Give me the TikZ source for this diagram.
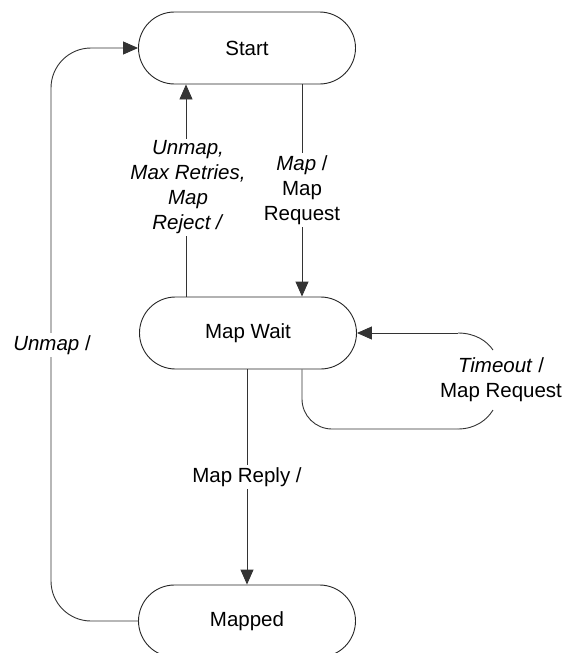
\documentclass[tikz,border=0pt]{standalone}
\usepackage{fontspec}
\setmainfont{Liberation Sans}
\usetikzlibrary{arrows.meta}
\begin{document}
\begin{tikzpicture}[x=1pt,y=-1pt,
  font=\fontsize{20.5}{25}\selectfont,
  state/.style={draw=black!85, line width=0.9pt, rounded corners=36pt,
    minimum width=217pt, minimum height=72pt, inner sep=0pt, fill=white},
  conn/.style={draw=black!80, line width=0.9pt},
  arr/.style={conn, -{Triangle[length=15pt,width=13pt]}},
  lbl/.style={fill=white, align=center, inner sep=2pt}]
\useasboundingbox (0,0) rectangle (569,653);
\clip (0,0) rectangle (569,653);

\node[state] (start) at (247,48) {Start};
\node[state] (wait) at (248,333) {Map Wait};
\node[state] (mapped) at (247,621) {Mapped};

\coordinate (ux) at (186,0);
\coordinate (mx) at (302,0);
\coordinate (rx) at (247,0);

% Start -> Map Wait
\draw[arr] (start.south -| mx) -- (wait.north -| mx);
\node[lbl] (lmap) at (302,190) {\textit{Map} /\\Map\\Request};

% Map Wait -> Start
\draw[arr] (wait.north -| ux) -- (start.south -| ux);
\node[lbl] (lunmap) at (188,187.5) {\textit{Unmap,}\\\textit{Max Retries,}\\\textit{Map}\\\textit{Reject /}};

% Map Wait -> Mapped
\draw[arr] (wait.south -| rx) -- (mapped.north -| rx);
\node[lbl] (lreply) at (247,477) {Map Reply /};

% Mapped -> Start
\coordinate (lb) at (51,621);
\coordinate (lt) at (51,48);
\draw[arr, rounded corners=40pt] (mapped.west) -- (lb) -- (lt) -- (start.west);
\node[lbl] (lunmap2) at (52,345) {\textit{Unmap} /};

% Self loop on Map Wait
\coordinate (sb1) at (493,410);
\coordinate (sb2) at (493,350);
\draw[conn, rounded corners=30pt] (wait.south -| mx) -- (302,429) -- (458,429);
\draw[conn] (458,429) .. controls (475,429) and (487,420) .. (sb1);
\draw[conn] (sb2) .. controls (487,341) and (475,333) .. (458,333);
\draw[arr] (458,333) -- (wait.east);
\node[align=center] (ltime) at (501,380) {\textit{Timeout} /\\Map Request};
\end{tikzpicture}
\end{document}
